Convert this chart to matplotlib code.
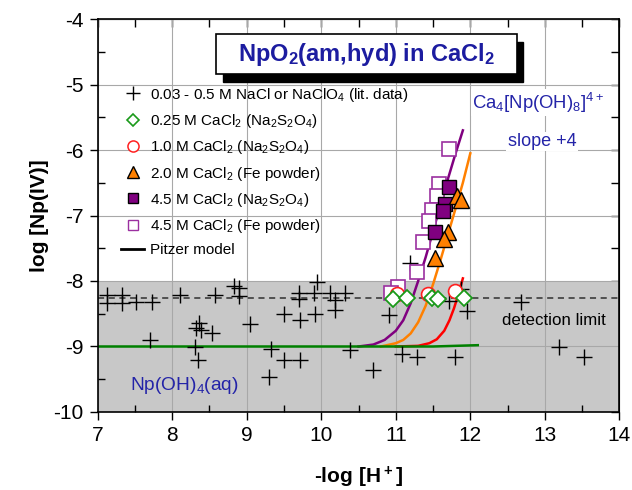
import matplotlib.pyplot as plt
from matplotlib.patches import Rectangle
from matplotlib.lines import Line2D
from matplotlib.ticker import MultipleLocator

plt.rcParams['font.family'] = ['Liberation Sans', 'DejaVu Sans']
plt.rcParams['mathtext.default'] = 'regular'
plt.rcParams['axes.unicode_minus'] = False

# literature data (0.03 - 0.5 M NaCl / NaClO4)
lit_x = [7.12, 7.12, 7.32, 7.32, 7.52, 7.73, 7.70, 8.11, 8.30, 8.32,
         8.34, 8.36, 8.39, 8.54, 8.58, 8.83, 8.90, 8.90, 9.04, 9.30,
         9.32, 9.50, 9.50, 9.70, 9.70, 9.72, 9.72, 9.92, 9.90, 9.94,
         10.12, 10.19, 10.19, 10.32, 10.39, 10.70, 10.91, 11.08, 11.19, 11.29,
         11.72, 11.79, 11.88, 11.95, 12.68, 13.19, 13.53]
lit_y = [-8.21, -8.33, -8.21, -8.33, -8.32, -8.32, -8.90, -8.21, -9.01, -8.72,
         -9.21, -8.64, -8.75, -8.79, -8.21, -8.08, -8.11, -8.23, -8.66, -9.46,
         -9.04, -8.51, -9.20, -8.19, -8.27, -8.59, -9.20, -8.51, -8.19, -8.01,
         -8.19, -8.29, -8.44, -8.19, -9.05, -9.36, -8.52, -9.12, -7.72, -9.16,
         -8.30, -9.16, -8.12, -8.46, -8.32, -9.01, -9.16]

# 0.25 M CaCl2 (Na2S2O4)
c025_x = [10.96, 11.15, 11.48, 11.57, 11.92]
c025_y = [-8.27, -8.26, -8.26, -8.27, -8.26]
# 1.0 M CaCl2 (Na2S2O4)
c10_x = [11.02, 11.43, 11.79]
c10_y = [-8.20, -8.20, -8.15]
# 2.0 M CaCl2 (Fe powder)
c20_x = [11.82, 11.88, 11.70, 11.65, 11.53]
c20_y = [-6.70, -6.76, -7.25, -7.36, -7.65]
# 4.5 M CaCl2 (Na2S2O4)
c45a_x = [11.71, 11.66, 11.64, 11.52]
c45a_y = [-6.57, -6.83, -6.93, -7.25]
# 4.5 M CaCl2 (Fe powder)
c45b_x = [11.72, 11.58, 11.55, 11.48, 11.44, 11.36, 11.29, 11.03, 10.93]
c45b_y = [-5.98, -6.52, -6.70, -6.92, -7.08, -7.40, -7.86, -8.09, -8.19]

# Pitzer model curves
fit_dil_x = [7.0, 11.5, 12.1]
fit_dil_y = [-9.00, -9.00, -8.98]
fit10_x = [11.00, 11.30, 11.45, 11.55, 11.65, 11.72, 11.78, 11.83, 11.87, 11.90]
fit10_y = [-9.00, -8.99, -8.95, -8.89, -8.76, -8.60, -8.42, -8.24, -8.08, -7.96]
fit20_x = [10.80, 11.00, 11.10, 11.20, 11.30, 11.40, 11.50, 11.60, 11.70, 11.80, 11.90, 12.00]
fit20_y = [-9.00, -8.95, -8.90, -8.80, -8.63, -8.38, -8.05, -7.68, -7.29, -6.90, -6.50, -6.05]
fit45_x = [10.50, 10.70, 10.85, 11.00, 11.10, 11.20, 11.30, 11.40, 11.50, 11.60, 11.70, 11.80, 11.90]
fit45_y = [-9.00, -8.97, -8.90, -8.76, -8.60, -8.34, -8.00, -7.64, -7.24, -6.84, -6.44, -6.06, -5.70]

det_limit = -8.26

fig = plt.figure(figsize=(6.32, 4.90), dpi=100)
ax = fig.add_axes([0.1546, 0.1592, 0.8254, 0.802])

ax.axhspan(-10, -8, color='#c8c8c8', zorder=0.2, lw=0)
ax.set_axisbelow(True)
ax.grid(True, which='major', color='#a8a8a8', lw=0.8)
ax.axhline(det_limit, color='#303030', ls=(0, (4, 3)), lw=1.1, zorder=1.5)

# model curves
ax.plot(fit45_x, fit45_y, color='#800080', lw=1.8, zorder=2)
ax.plot(fit20_x, fit20_y, color='#ff8000', lw=1.8, zorder=2)
ax.plot(fit10_x, fit10_y, color='#ff0000', lw=1.8, zorder=2)
ax.plot(fit_dil_x, fit_dil_y, color='#008000', lw=1.8, zorder=2.1)

# data
ax.plot(lit_x, lit_y, '+', color='black', ms=12, mew=1, zorder=2.5)
ax.plot(c45b_x, c45b_y, 's', mfc='white', mec='#9b30a0', mew=1.2, ms=10.5, zorder=3)
ax.plot(c45a_x, c45a_y, 's', mfc='#800080', mec='black', mew=1, ms=10, zorder=4)
ax.plot(c20_x, c20_y, '^', mfc='#ff8000', mec='black', mew=1, ms=12, zorder=4)
ax.plot(c10_x, c10_y, 'o', mfc='white', mec='#ff2020', mew=1.2, ms=10, zorder=5)
ax.plot(c025_x, c025_y, 'D', mfc='white', mec='#1a9a1a', mew=1.3, ms=8, zorder=6)

ax.set_xlim(7, 14)
ax.set_ylim(-10, -4)
ax.xaxis.set_major_locator(MultipleLocator(1))
ax.yaxis.set_major_locator(MultipleLocator(1))
ax.xaxis.set_minor_locator(MultipleLocator(0.5))
ax.yaxis.set_minor_locator(MultipleLocator(0.5))
ax.tick_params(which='major', direction='out', length=6, width=1, labelsize=15, pad=4)
ax.tick_params(which='minor', direction='in', length=5, width=1)
for s in ax.spines.values():
    s.set_linewidth(1.2)

secx = ax.secondary_xaxis('top')
secx.xaxis.set_major_locator(MultipleLocator(1))
secx.xaxis.set_minor_locator(MultipleLocator(0.5))
secx.tick_params(which='both', direction='in', length=6, width=1, labeltop=False)
secy = ax.secondary_yaxis('right')
secy.yaxis.set_major_locator(MultipleLocator(1))
secy.yaxis.set_minor_locator(MultipleLocator(0.5))
secy.tick_params(which='both', direction='in', length=6, width=1, labelright=False)

ax.set_xlabel('-log [H$^+$]', fontsize=15, fontweight='bold', labelpad=14)
ax.set_ylabel('log [Np(IV)]', fontsize=15, fontweight='bold', labelpad=3)

# title box with shadow
ax.add_patch(Rectangle((0.240, 0.840), 0.576, 0.102, transform=ax.transAxes,
                       facecolor='black', edgecolor='black', zorder=7))
ax.add_patch(Rectangle((0.227, 0.860), 0.576, 0.102, transform=ax.transAxes,
                       facecolor='white', edgecolor='black', lw=1.2, zorder=8))
ax.text(0.515, 0.910, 'NpO$_2$(am,hyd) in CaCl$_2$', transform=ax.transAxes,
        ha='center', va='center', fontsize=17, fontweight='bold', color='#1c1ca0', zorder=9)

ax.text(12.91, -5.28, 'Ca$_4$[Np(OH)$_8$]$^{4+}$', ha='center', va='center',
        fontsize=13.3, color='#2424a8', zorder=7,
        bbox=dict(facecolor='white', edgecolor='none', pad=1))
ax.text(12.96, -5.87, 'slope +4', ha='center', va='center', fontsize=13,
        color='#2424a8', zorder=7, bbox=dict(facecolor='white', edgecolor='none', pad=1))
ax.text(13.12, -8.60, 'detection limit', ha='center', va='center', fontsize=12.2,
        color='black', zorder=7)
ax.text(8.17, -9.60, 'Np(OH)$_4$(aq)', ha='center', va='center', fontsize=13.8,
        color='#2424a8', zorder=7)

handles = [
    Line2D([], [], ls='none', marker='+', color='black', ms=10, mew=1),
    Line2D([], [], ls='none', marker='D', mfc='white', mec='#1a9a1a', ms=6.5, mew=1.2),
    Line2D([], [], ls='none', marker='o', mfc='white', mec='#ff2020', ms=8, mew=1.1),
    Line2D([], [], ls='none', marker='^', mfc='#ff8000', mec='black', ms=8.5, mew=1),
    Line2D([], [], ls='none', marker='s', mfc='#800080', mec='black', ms=7.5, mew=1),
    Line2D([], [], ls='none', marker='s', mfc='white', mec='#9b30a0', ms=7.5, mew=1),
    Line2D([], [], color='black', lw=2),
]
labels = [
    '0.03 - 0.5 M NaCl or NaClO$_4$ (lit. data)',
    '0.25 M CaCl$_2$ (Na$_2$S$_2$O$_4$)',
    '1.0 M CaCl$_2$ (Na$_2$S$_2$O$_4$)',
    '2.0 M CaCl$_2$ (Fe powder)',
    '4.5 M CaCl$_2$ (Na$_2$S$_2$O$_4$)',
    '4.5 M CaCl$_2$ (Fe powder)',
    'Pitzer model',
]
leg = ax.legend(handles, labels, loc='upper left', bbox_to_anchor=(0.045, 0.830),
                frameon=False, fontsize=11, handlelength=1.5, handletextpad=0.4,
                labelspacing=0.54, borderpad=0, borderaxespad=0)
leg.set_zorder(10)

plt.savefig('out.png', dpi=100)
